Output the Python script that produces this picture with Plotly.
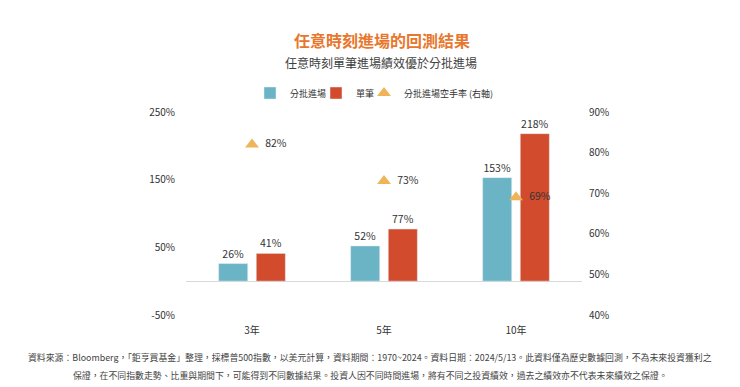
import plotly.graph_objects as go

categories = ["3年", "5年", "10年"]
batch_returns = [26, 52, 153]
lump_returns = [41, 77, 218]
batch_idle_rate = [82, 73, 69]

left_ticks = [-50, 50, 150, 250]
right_ticks = [40, 50, 60, 70, 80, 90]

series_names = ["分批進場", "單筆", "分批進場空手率 (右軸)"]
title = "任意時刻進場的回測結果"
subtitle = "任意時刻單筆進場績效優於分批進場"
footnote1 = "資料來源：Bloomberg，「鉅亨買基金」整理，採標普500指數，以美元計算，資料期間：1970~2024。資料日期：2024/5/13。此資料僅為歷史數據回測，不為未來投資獲利之"
footnote2 = "保證，在不同指數走勢、比重與期間下，可能得到不同數據結果。投資人因不同時間進場，將有不同之投資績效，過去之績效亦不代表未來績效之保證。"

FONT = "Noto Sans CJK TC, Noto Sans, sans-serif"
BLUE = "#6BB4C5"
RED = "#D24B2D"
GOLD = "#EFB45A"

fig = go.Figure()
fig.add_trace(go.Bar(
    x=categories, y=batch_returns, name=series_names[0], legend="legend",
    marker_color=BLUE,
    text=[f"{v}%" for v in batch_returns], textposition="outside",
    textfont=dict(size=10.5, color="#333333"), cliponaxis=False,
))
fig.add_trace(go.Bar(
    x=categories, y=lump_returns, name=series_names[1], legend="legend2",
    marker_color=RED,
    text=[f"{v}%" for v in lump_returns], textposition="outside",
    textfont=dict(size=10.5, color="#333333"), cliponaxis=False,
))
fig.add_trace(go.Scatter(
    x=categories, y=batch_idle_rate, name=series_names[2], yaxis="y2", legend="legend3",
    mode="markers+text",
    marker=dict(symbol="triangle-up", size=12, color=GOLD),
    text=[f"  {v}%" for v in batch_idle_rate], textposition="middle right",
    textfont=dict(size=10.5, color="#333333"), cliponaxis=False,
))

PLOT_LEFT, PLOT_RIGHT = 186, 582
PLOT_TOP, PLOT_BOTTOM = 112, 315
W = PLOT_RIGHT - PLOT_LEFT
H = PLOT_BOTTOM - PLOT_TOP


def px_(p):
    return (p - PLOT_LEFT) / W


def py(p):
    return (PLOT_BOTTOM - p) / H


def leg(x_left):
    return dict(orientation="h", x=px_(x_left), xanchor="left", y=py(93), yanchor="middle",
                font=dict(size=9, color="#333333"), itemwidth=30,
                bgcolor="rgba(0,0,0,0)", borderwidth=0)


fig.update_layout(
    width=740, height=387,
    margin=dict(l=PLOT_LEFT, r=740 - PLOT_RIGHT, t=PLOT_TOP, b=387 - PLOT_BOTTOM,
                autoexpand=False),
    paper_bgcolor="white", plot_bgcolor="white",
    font=dict(family=FONT, color="#333333", size=10),
    barmode="group", bargap=0.43, bargroupgap=0.227,
    showlegend=True,
    legend=leg(250),
    legend2=leg(316),
    legend3=leg(364),
    xaxis=dict(showgrid=False, showline=False, ticks="", zeroline=False,
               tickfont=dict(size=10, color="#333333"), automargin=False,
               ticklabelstandoff=8),
    yaxis=dict(range=[-50, 250], tickvals=left_ticks,
               ticktext=[f"{v}%" for v in left_ticks],
               showgrid=False, zeroline=True, zerolinecolor="#D9D9D9", zerolinewidth=1,
               showline=False, ticks="", tickfont=dict(size=10, color="#333333"),
               ticklabelstandoff=10, automargin=False),
    yaxis2=dict(range=[40, 90], tickvals=right_ticks,
                ticktext=[f"{v}%" for v in right_ticks],
                overlaying="y", side="right",
                showgrid=False, zeroline=False, showline=False, ticks="",
                tickfont=dict(size=10, color="#333333"), ticklabelstandoff=6,
                automargin=False),
)

fig.add_annotation(text=f"<b>{title}</b>", xref="paper", yref="paper", x=px_(382),
                   y=py(40), yanchor="middle", showarrow=False,
                   font=dict(size=16, color="#E8772E", family=FONT))
fig.add_annotation(text=subtitle, xref="paper", yref="paper", x=px_(381), y=py(63),
                   yanchor="middle", showarrow=False,
                   font=dict(size=12, color="#404040", family=FONT))
fig.add_annotation(text=footnote1, xref="paper", yref="paper", x=px_(370), y=py(357),
                   yanchor="middle", showarrow=False,
                   font=dict(size=8.9, color="#444444", family=FONT))
fig.add_annotation(text=footnote2, xref="paper", yref="paper", x=px_(370), y=py(375),
                   yanchor="middle", showarrow=False,
                   font=dict(size=8.9, color="#444444", family=FONT))

fig.write_html("out.html", config={"displayModeBar": False},
               post_script="document.body.style.margin='0';document.body.style.overflow='hidden';")
